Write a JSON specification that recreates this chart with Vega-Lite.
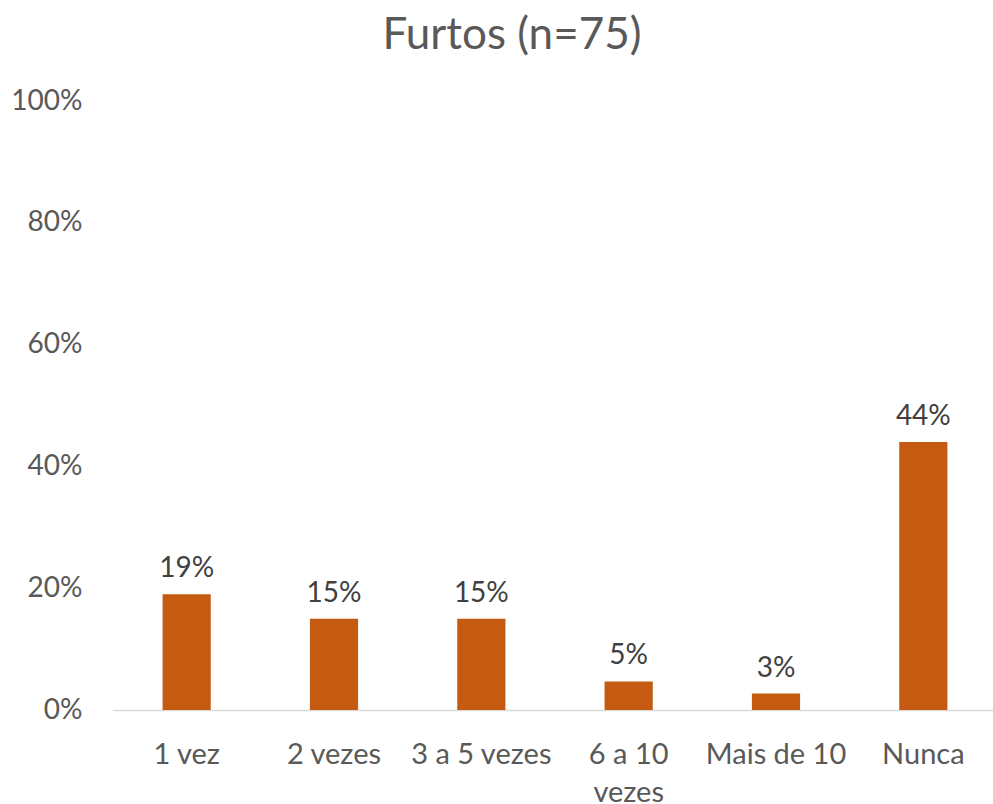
{
  "$schema": "https://vega.github.io/schema/vega-lite/v6.json",
  "autosize": "none",
  "width": 884,
  "height": 609,
  "padding": {"left": 113, "top": 101, "right": 0, "bottom": 94},
  "background": "white",
  "title": {
    "text": "Furtos (n=75)",
    "font": "Lato",
    "fontSize": 44,
    "fontWeight": "normal",
    "color": "#595959",
    "anchor": "middle",
    "frame": "group",
    "baseline": "alphabetic",
    "offset": -6,
    "dx": -43
  },
  "config": {
    "view": {"stroke": null},
    "font": "Lato"
  },
  "data": {
    "values": [
      {"categoria": "1 vez", "valor": 0.19},
      {"categoria": "2 vezes", "valor": 0.15},
      {"categoria": "3 a 5 vezes", "valor": 0.15},
      {"categoria": "6 a 10 vezes", "valor": 0.047},
      {"categoria": "Mais de 10", "valor": 0.027},
      {"categoria": "Nunca", "valor": 0.44}
    ]
  },
  "encoding": {
    "x": {
      "field": "categoria",
      "type": "nominal",
      "sort": null,
      "scale": {"paddingInner": 0.673, "paddingOuter": 0.3365},
      "axis": {
        "title": null,
        "labelAngle": 0,
        "labelFont": "Lato",
        "labelFontSize": 29,
        "labelColor": "#595959",
        "labelPadding": 30,
        "labelLineHeight": 38,
        "labelExpr": "datum.value == '6 a 10 vezes' ? ['6 a 10', 'vezes'] : datum.value",
        "ticks": false,
        "domainColor": "#D9D9D9",
        "domainWidth": 1.5
      }
    },
    "y": {
      "field": "valor",
      "type": "quantitative",
      "scale": {"domain": [0, 1]},
      "axis": {
        "title": null,
        "format": ".0%",
        "values": [0, 0.2, 0.4, 0.6, 0.8, 1],
        "labelFont": "Lato",
        "labelFontSize": 28,
        "labelColor": "#595959",
        "labelPadding": 31,
        "ticks": false,
        "domain": false,
        "grid": false
      }
    }
  },
  "layer": [
    {"mark": {"type": "bar", "color": "#C55A11"}},
    {
      "mark": {
        "type": "text",
        "font": "Lato",
        "fontSize": 28,
        "color": "#404040",
        "baseline": "alphabetic",
        "dy": -17
      },
      "encoding": {
        "text": {"field": "valor", "type": "quantitative", "format": ".0%"}
      }
    }
  ]
}
